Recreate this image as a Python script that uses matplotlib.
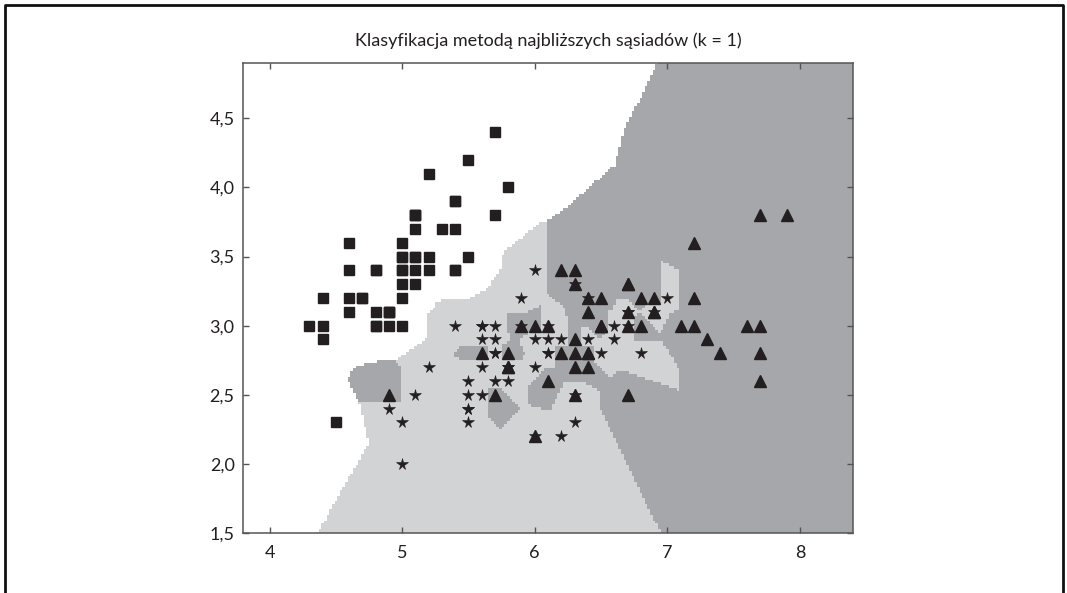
import numpy as np
import matplotlib
matplotlib.use('Agg')
from matplotlib import pyplot as plt
from matplotlib.colors import ListedColormap
from matplotlib.lines import Line2D
from matplotlib.ticker import FuncFormatter

plt.rcParams['font.family'] = ['Lato', 'DejaVu Sans']

# iris: sepal length / sepal width per class
setosa_x = [5.1, 4.9, 4.7, 4.6, 5.0, 5.4, 4.6, 5.0, 4.4, 4.9, 5.4, 4.8, 4.8, 4.3, 5.8, 5.7, 5.4,
            5.1, 5.7, 5.1, 5.4, 5.1, 4.6, 5.1, 4.8, 5.0, 5.0, 5.2, 5.2, 4.7, 4.8, 5.4, 5.2, 5.5,
            4.9, 5.0, 5.5, 4.9, 4.4, 5.1, 5.0, 4.5, 4.4, 5.0, 5.1, 4.8, 5.1, 4.6, 5.3, 5.0]
setosa_y = [3.5, 3.0, 3.2, 3.1, 3.6, 3.9, 3.4, 3.4, 2.9, 3.1, 3.7, 3.4, 3.0, 3.0, 4.0, 4.4, 3.9,
            3.5, 3.8, 3.8, 3.4, 3.7, 3.6, 3.3, 3.4, 3.0, 3.4, 3.5, 3.4, 3.2, 3.1, 3.4, 4.1, 4.2,
            3.1, 3.2, 3.5, 3.1, 3.0, 3.4, 3.5, 2.3, 3.2, 3.5, 3.8, 3.0, 3.8, 3.2, 3.7, 3.3]
versicolor_x = [7.0, 6.4, 6.9, 5.5, 6.5, 5.7, 6.3, 4.9, 6.6, 5.2, 5.0, 5.9, 6.0, 6.1, 5.6, 6.7, 5.6,
                5.8, 6.2, 5.6, 5.9, 6.1, 6.3, 6.1, 6.4, 6.6, 6.8, 6.7, 6.0, 5.7, 5.5, 5.5, 5.8, 6.0,
                5.4, 6.0, 6.7, 6.3, 5.6, 5.5, 5.5, 6.1, 5.8, 5.0, 5.6, 5.7, 5.7, 6.2, 5.1, 5.7]
versicolor_y = [3.2, 3.2, 3.1, 2.3, 2.8, 2.8, 3.3, 2.4, 2.9, 2.7, 2.0, 3.0, 2.2, 2.9, 2.9, 3.1, 3.0,
                2.7, 2.2, 2.5, 3.2, 2.8, 2.5, 2.8, 2.9, 3.0, 2.8, 3.0, 2.9, 2.6, 2.4, 2.4, 2.7, 2.7,
                3.0, 3.4, 3.1, 2.3, 3.0, 2.5, 2.6, 3.0, 2.6, 2.3, 2.7, 3.0, 2.9, 2.9, 2.5, 2.8]
virginica_x = [6.3, 5.8, 7.1, 6.3, 6.5, 7.6, 4.9, 7.3, 6.7, 7.2, 6.5, 6.4, 6.8, 5.7, 5.8, 6.4, 6.5,
               7.7, 7.7, 6.0, 6.9, 5.6, 7.7, 6.3, 6.7, 7.2, 6.2, 6.1, 6.4, 7.2, 7.4, 7.9, 6.4, 6.3,
               6.1, 7.7, 6.3, 6.4, 6.0, 6.9, 6.7, 6.9, 5.8, 6.8, 6.7, 6.7, 6.3, 6.5, 6.2, 5.9]
virginica_y = [3.3, 2.7, 3.0, 2.9, 3.0, 3.0, 2.5, 2.9, 2.5, 3.6, 3.2, 2.7, 3.0, 2.5, 2.8, 3.2, 3.0,
               3.8, 2.6, 2.2, 3.2, 2.8, 2.8, 2.7, 3.3, 3.2, 2.8, 3.0, 2.8, 3.0, 2.8, 3.8, 2.8, 2.8,
               2.6, 3.0, 3.4, 3.1, 3.0, 3.1, 3.1, 3.1, 2.7, 3.2, 3.3, 3.0, 2.5, 3.0, 3.4, 3.0]

# duplicated versicolor/virginica points whose neighbour vote went to virginica
virginica_wins = [(6.3, 3.3), (6.4, 3.2), (5.9, 3.0)]

title = 'Klasyfikacja metodą najbliższych sąsiadów (k = 1)'
x_ticks = [4, 5, 6, 7, 8]
y_ticks = [1.5, 2.0, 2.5, 3.0, 3.5, 4.0, 4.5]
x_lim = (3.8, 8.4)
y_lim = (1.5, 4.9)


def training_set():
    pts, labels = [], []
    for x, y in zip(setosa_x, setosa_y):
        pts.append((x, y))
        labels.append(0)
    for x, y in zip(versicolor_x, versicolor_y):
        if (x, y) in virginica_wins:
            continue
        pts.append((x, y))
        labels.append(1)
    for x, y in zip(virginica_x, virginica_y):
        pts.append((x, y))
        labels.append(2)
    return np.array(pts), np.array(labels)


def knn1(xx, yy, pts, labels):
    grid = np.c_[xx.ravel(), yy.ravel()]
    d = ((grid[:, None, :] - pts[None, :, :]) ** 2).sum(axis=2)
    return labels[np.argmin(d, axis=1)].reshape(xx.shape)


h = 0.02
xx, yy = np.meshgrid(np.arange(x_lim[0], x_lim[1] + h, h),
                     np.arange(y_lim[0], y_lim[1] + h, h))
pts, labels = training_set()
zz = knn1(xx, yy, pts, labels)

fig = plt.figure(figsize=(10.67, 5.93), dpi=100)
ax = fig.add_axes([243 / 1067, 1 - 533 / 593, 610 / 1067, 470 / 593])

cmap = ListedColormap(['#ffffff', '#d2d3d5', '#a6a7aa'])
ax.pcolormesh(xx, yy, zz, cmap=cmap, vmin=0, vmax=2, shading='nearest')

ink = '#231f20'
ax.plot(setosa_x, setosa_y, 's', color=ink, markersize=7.5, linestyle='none')
ax.plot(versicolor_x, versicolor_y, '*', color=ink, markersize=8.5, markeredgewidth=0.4,
        linestyle='none')
ax.plot(virginica_x, virginica_y, '^', color=ink, markersize=8, linestyle='none')

ax.set_xlim(*x_lim)
ax.set_ylim(*y_lim)
ax.set_xticks(x_ticks)
ax.set_yticks(y_ticks)
ax.xaxis.set_major_formatter(FuncFormatter(lambda v, p: '%d' % v))
ax.yaxis.set_major_formatter(FuncFormatter(lambda v, p: ('%.1f' % v).replace('.', ',')))
ax.tick_params(direction='in', top=True, right=True, length=4, width=1, color='#555555',
               labelsize=13, labelcolor='#231f20')
ax.tick_params(axis='x', pad=9)
ax.tick_params(axis='y', pad=6)
for s in ax.spines.values():
    s.set_color('#555555')
    s.set_linewidth(1.1)

ax.set_title(title, fontsize=13, color='#231f20', pad=12)

# page frame
fx0, fx1, fy = 5 / 1067, 1063 / 1067, 1 - 5 / 593
fig.add_artist(Line2D([fx0, fx0, fx1, fx1], [0, fy, fy, 0], transform=fig.transFigure,
                      color='#111111', linewidth=2))

fig.savefig('out.png', dpi=100)
